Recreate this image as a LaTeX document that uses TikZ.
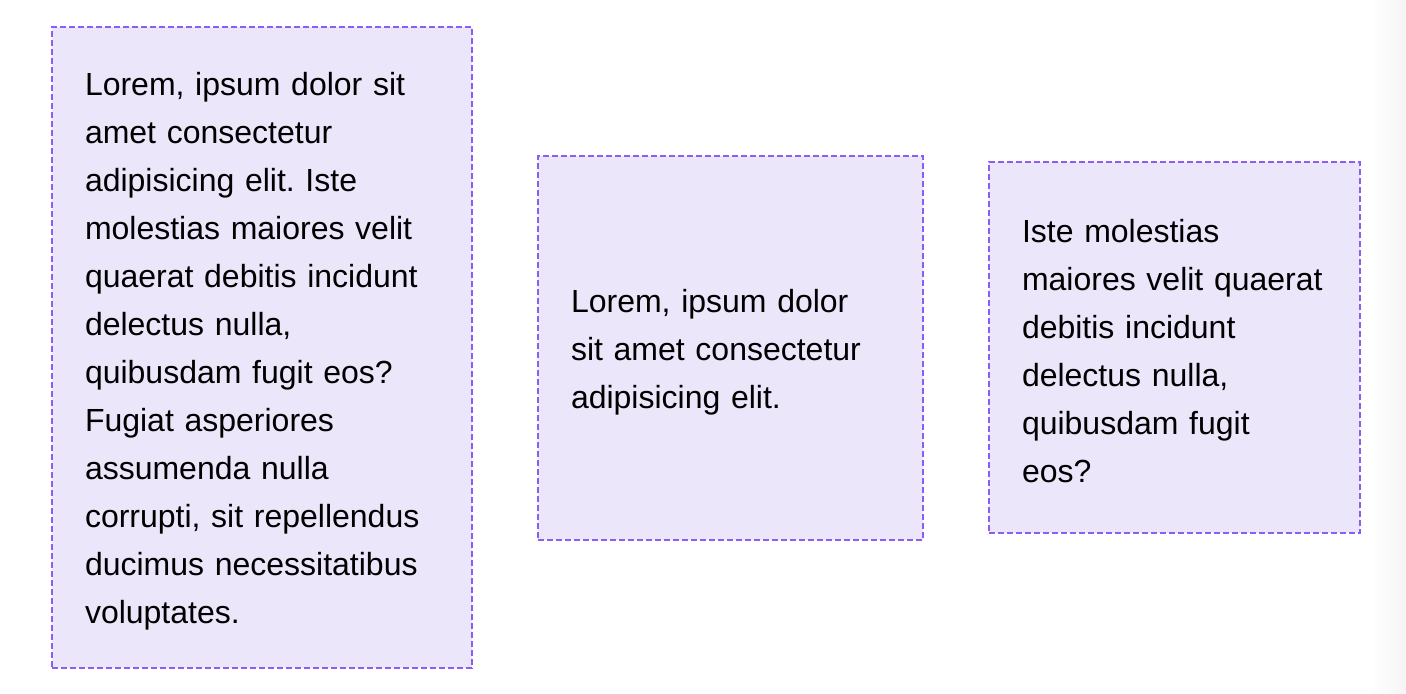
\documentclass[tikz,border=0pt]{standalone}
\usepackage{fontspec}
\setmainfont{Liberation Sans}
\usepackage{tikz}
\frenchspacing
\definecolor{boxline}{RGB}{139,92,246}
\definecolor{boxfill}{RGB}{236,230,250}

\begin{document}
\begin{tikzpicture}[x=1pt,y=1pt,
        card/.style={draw=boxline,fill=boxfill,line width=1pt,dash pattern=on 3pt off 1.5pt,
            anchor=north west,inner sep=0pt},
        cardtext/.style={inner sep=0pt,align=left,font=\fontsize{16pt}{24pt}\selectfont}]
        \useasboundingbox (0,0) rectangle (703,-347);
        \shade[left color=white,right color=black!4] (685,0) rectangle (703,-347);
        \node[card,minimum width=210pt,minimum height=320.5pt] (first) at (25.5,-13) {};
        \node[card,minimum width=192.5pt,minimum height=192pt] (second) at (268.5,-77.5) {};
        \node[card,minimum width=185.5pt,minimum height=185.5pt] (third) at (494,-80.5) {};
        \node[cardtext,text width=177pt] (first text) at ([yshift=-2pt]first.center)
        {Lorem, ipsum dolor sit\\ amet consectetur\\ adipisicing elit. Iste\\ molestias maiores velit\\
         quaerat debitis incidunt\\ delectus nulla,\\ quibusdam fugit eos?\\ Fugiat asperiores\\
         assumenda nulla\\ corrupti, sit repellendus\\ ducimus necessitatibus\\ voluptates.};
        \node[cardtext,text width=159.5pt] (second text) at ([yshift=-2pt]second.center)
        {Lorem, ipsum dolor\\ sit amet consectetur\\ adipisicing elit.};
        \node[cardtext,text width=152.5pt] (third text) at ([yshift=-2pt]third.center)
        {Iste molestias\\ maiores velit quaerat\\ debitis incidunt\\ delectus nulla,\\ quibusdam fugit\\ eos?};
\end{tikzpicture}
\end{document}
